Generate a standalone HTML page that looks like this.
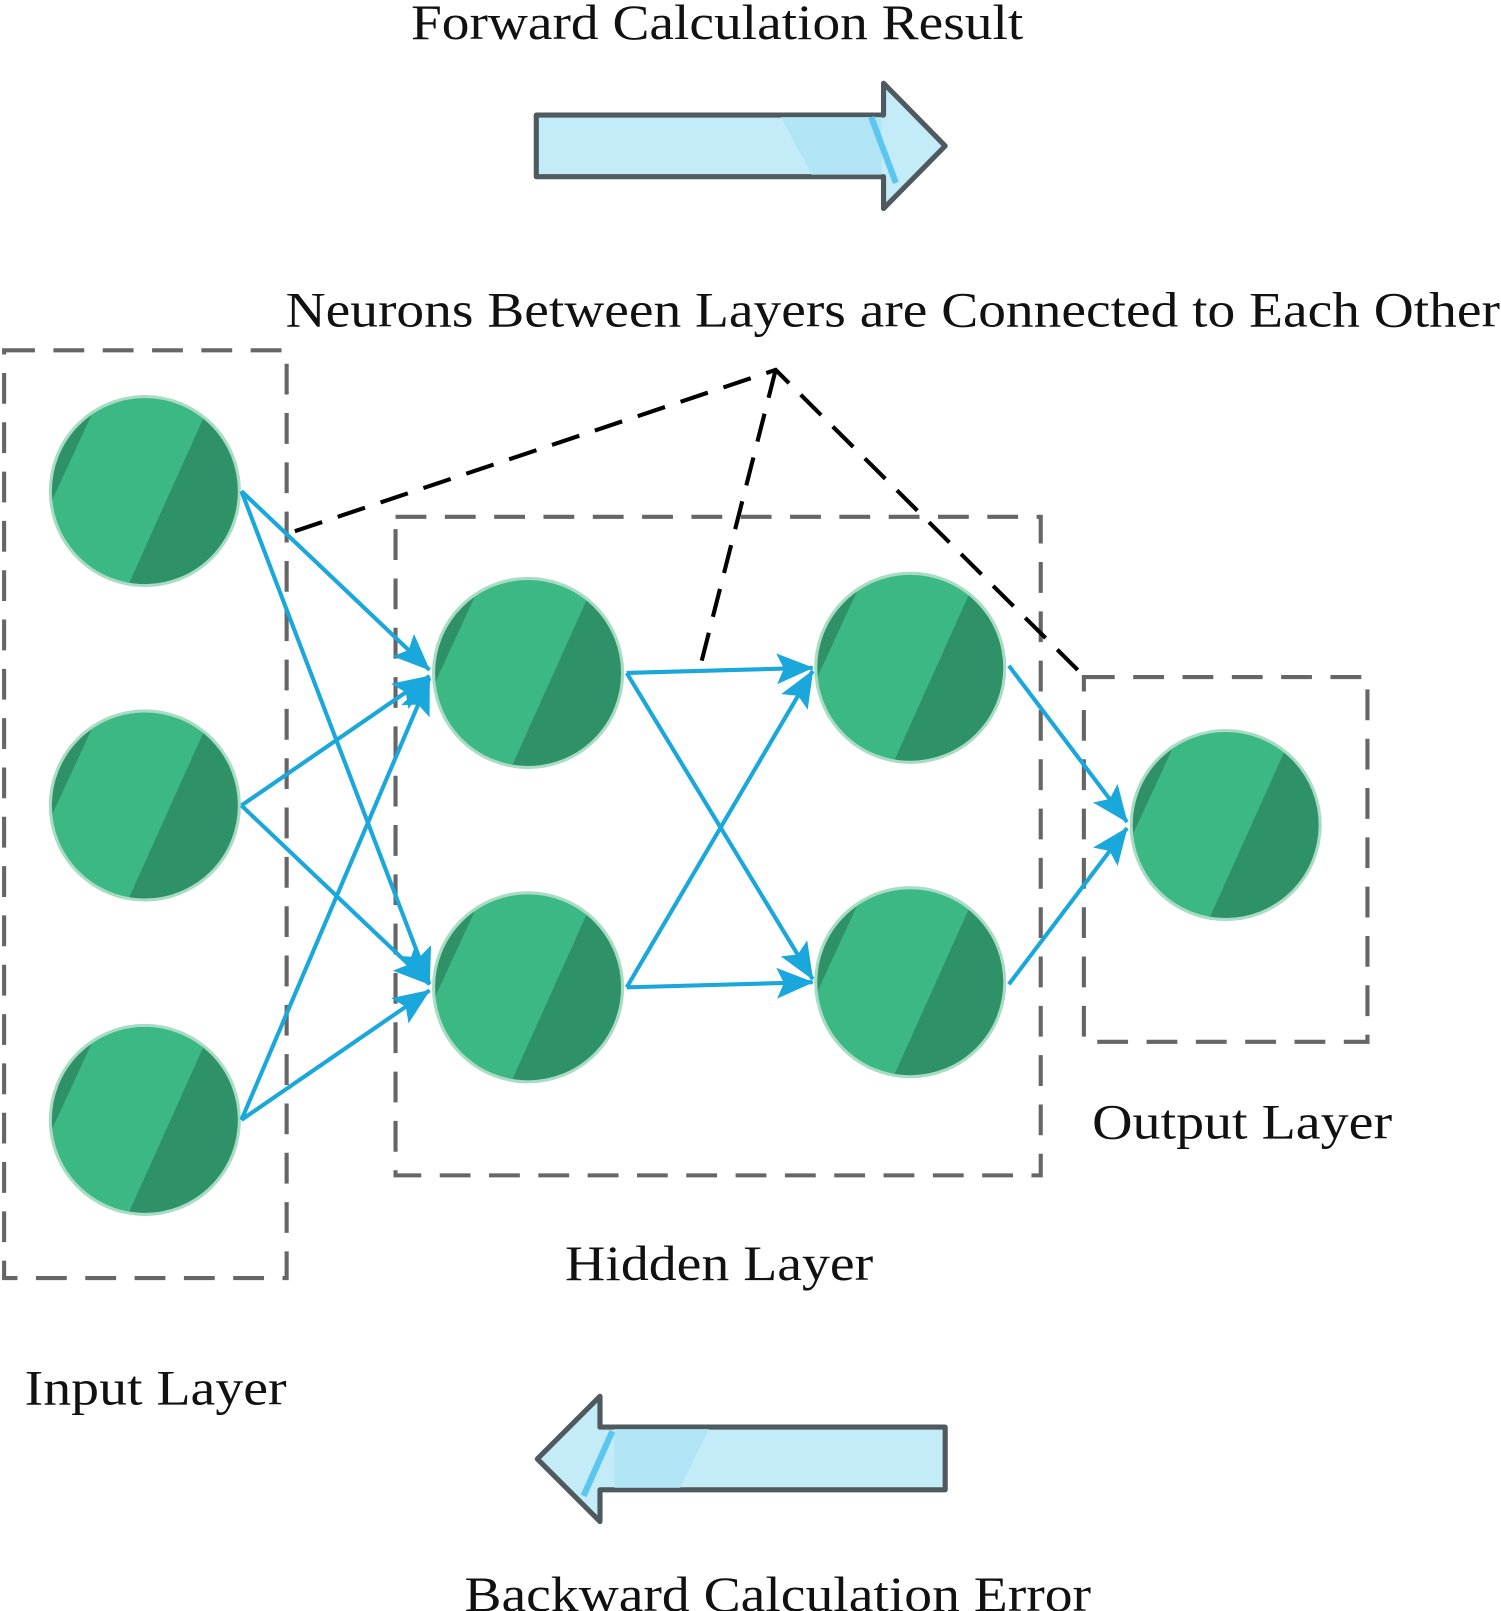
<!DOCTYPE html>
<html><head><meta charset="utf-8"><style>html,body{margin:0;padding:0;background:#fff}svg{display:block}</style></head><body>
<svg width="1501" height="1611" viewBox="0 0 1461 1568" preserveAspectRatio="none" xmlns="http://www.w3.org/2000/svg">
<defs>
<clipPath id="c"><circle cx="0" cy="0" r="92"/></clipPath>
<g id="n">
<g clip-path="url(#c)">
<rect x="-100" y="-100" width="200" height="200" fill="#3cb884"/>
<polygon points="-40,-100 -100,30 -100,-100" fill="#2e9168"/>
<polygon points="70,-100 -20,100 100,100 100,-100" fill="#2e9168"/>
</g>
<circle cx="0" cy="0" r="92" fill="none" stroke="#a8dcc4" stroke-width="3"/>
</g>
<marker id="a" viewBox="0 0 36 30" refX="35" refY="15" markerWidth="36" markerHeight="30" markerUnits="userSpaceOnUse" orient="auto">
<path d="M0,0 L36,15 L0,30 L7,15 z" fill="#1aa7dc"/>
</marker>
</defs>
<g font-family="Liberation Serif, serif" font-size="48" fill="#111">
<text x="400" y="38" textLength="596" lengthAdjust="spacingAndGlyphs">Forward Calculation Result</text>
<text x="278" y="318" textLength="1182" lengthAdjust="spacingAndGlyphs">Neurons Between Layers are Connected to Each Other</text>
<text x="1063" y="1108" textLength="292" lengthAdjust="spacingAndGlyphs">Output Layer</text>
<text x="550" y="1246" textLength="300" lengthAdjust="spacingAndGlyphs">Hidden Layer</text>
<text x="24" y="1367" textLength="255" lengthAdjust="spacingAndGlyphs">Input Layer</text>
<text x="452" y="1568" textLength="610" lengthAdjust="spacingAndGlyphs">Backward Calculation Error</text>
</g>
<g stroke="#4f5a5e" stroke-width="5" stroke-linejoin="round">
<polygon points="522,112 860,112 860,81 920,142 860,203 860,172 522,172" fill="#c4ebf8"/>
<polygon points="920,1389 584,1389 584,1359 523,1420 584,1481 584,1450 920,1450" fill="#c4ebf8"/>
</g>
<polygon points="760,114 858,114 858,170 790,170" fill="#b1e5f6"/>
<line x1="848" y1="114" x2="872" y2="178" stroke="#5bc6ee" stroke-width="6"/>
<polygon points="690,1391 598,1391 598,1448 662,1448" fill="#b1e5f6"/>
<line x1="596" y1="1393" x2="568" y2="1456" stroke="#5bc6ee" stroke-width="6"/>
<g fill="none" stroke="#666" stroke-width="4" stroke-dasharray="30 18">
<rect x="4" y="341" width="275" height="903"/>
<rect x="385" y="503" width="628" height="641"/>
<rect x="1055" y="659" width="276" height="355"/>
</g>
<use href="#n" x="141" y="478"/><use href="#n" x="141" y="784"/><use href="#n" x="141" y="1090"/>
<use href="#n" x="514" y="655"/><use href="#n" x="514" y="961"/>
<use href="#n" x="886" y="650"/><use href="#n" x="886" y="956"/>
<use href="#n" x="1193" y="803"/>
<g stroke="#1aa7dc" stroke-width="4" marker-end="url(#a)">
<line x1="235" y1="478" x2="418" y2="652"/><line x1="235" y1="478" x2="418" y2="958"/>
<line x1="235" y1="784" x2="418" y2="658"/><line x1="235" y1="784" x2="418" y2="958"/>
<line x1="235" y1="1090" x2="418" y2="660"/><line x1="235" y1="1090" x2="418" y2="964"/>
<line x1="610" y1="655" x2="791" y2="650"/><line x1="610" y1="655" x2="791" y2="953"/>
<line x1="610" y1="961" x2="791" y2="653"/><line x1="610" y1="961" x2="791" y2="956"/>
<line x1="982" y1="648" x2="1097" y2="800"/><line x1="982" y1="958" x2="1097" y2="806"/>
</g>
<g stroke="#000" stroke-width="4" stroke-dasharray="28 16" fill="none">
<polyline points="287,517 755,360 1057,660"/>
<line x1="755" y1="360" x2="680" y2="655"/>
</g>
</svg>
</body></html>
